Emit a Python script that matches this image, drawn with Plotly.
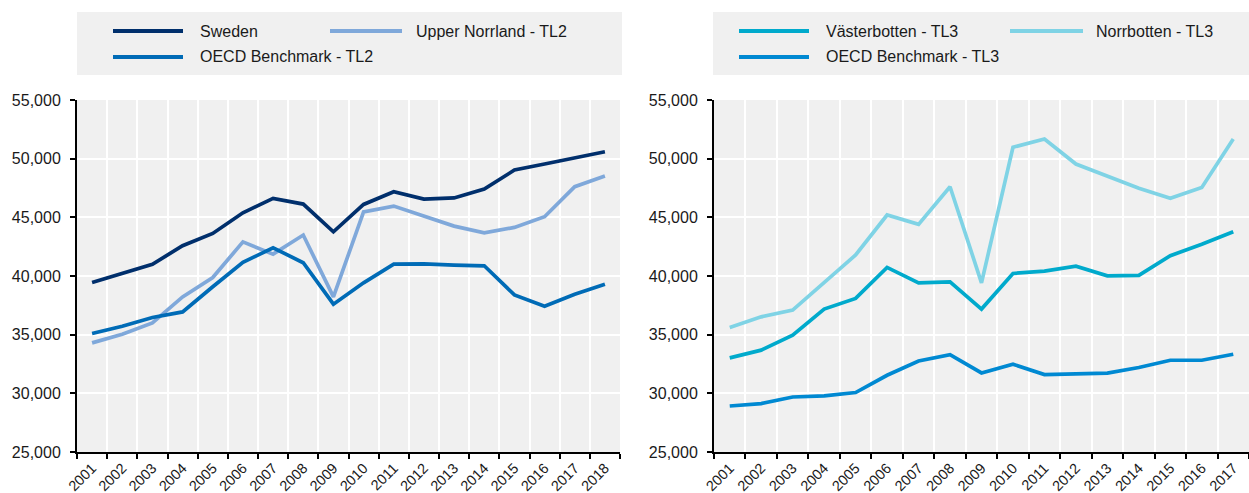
import plotly.graph_objects as go

W, H = 1249, 493

years_tl2 = [str(y) for y in range(2001, 2019)]
years_tl3 = [str(y) for y in range(2001, 2018)]

sweden = [39450, 40220, 41000, 42580, 43630, 45390, 46620, 46130, 43770, 46100,
          47180, 46560, 46650, 47410, 49030, 49540, 50030, 50590]
upper_norrland = [34300, 35040, 36000, 38220, 39870, 42910, 41860, 43490, 38220, 45470,
                  45960, 45100, 44250, 43680, 44140, 45050, 47610, 48520]
oecd_tl2 = [35100, 35720, 36460, 36940, 39080, 41160, 42410, 41130, 37600, 39420,
            41010, 41030, 40930, 40870, 38390, 37430, 38450, 39300]

vasterbotten = [33020, 33680, 34960, 37180, 38090, 40730, 39420, 39500, 37180, 40220,
                40410, 40840, 40010, 40050, 41730, 42700, 43770]
norrbotten = [35610, 36520, 37090, 39420, 41790, 45200, 44400, 47610, 39420, 50970,
              51680, 49540, 48520, 47470, 46620, 47550, 51680]
oecd_tl3 = [28920, 29130, 29690, 29780, 30070, 31540, 32760, 33300, 31740, 32480,
            31600, 31690, 31720, 32200, 32820, 32820, 33330]

C_SWE = "#002F6C"
C_UN = "#7FA8DA"
C_O2 = "#006BB6"
C_VB = "#00AACC"
C_NB = "#7FD3E5"
C_O3 = "#0089D2"

FONT = "Liberation Sans, Arial, sans-serif"
TXT = "#1a1a1a"
FS = 16

def px(x):
    return x / W

def py(y):
    return 1 - y / H

fig = go.Figure()

left_series = [("Sweden", sweden, C_SWE), ("Upper Norrland - TL2", upper_norrland, C_UN),
               ("OECD Benchmark - TL2", oecd_tl2, C_O2)]
right_series = [("Västerbotten - TL3", vasterbotten, C_VB), ("Norrbotten - TL3", norrbotten, C_NB),
                ("OECD Benchmark - TL3", oecd_tl3, C_O3)]

for name, vals, col in [left_series[1], left_series[2], left_series[0]]:
    fig.add_trace(go.Scatter(x=years_tl2, y=vals, mode="lines", name=name,
                             line=dict(color=col, width=3.7), xaxis="x", yaxis="y",
                             showlegend=False))
for name, vals, col in [right_series[1], right_series[0], right_series[2]]:
    fig.add_trace(go.Scatter(x=years_tl3, y=vals, mode="lines", name=name,
                             line=dict(color=col, width=3.7), xaxis="x2", yaxis="y2",
                             showlegend=False))

ydom = [py(452), py(100)]
common_x = dict(type="category", tickson="boundaries", showgrid=True, gridcolor="white",
                gridwidth=1.5, showline=True, linecolor="black", linewidth=2,
                ticks="outside", ticklen=5, tickcolor="black", tickwidth=1.5,
                tickangle=-45, tickfont=dict(family=FONT, size=14.5, color=TXT),
                automargin=False, zeroline=False, ticklabelstandoff=0)
common_y = dict(range=[25000, 55000], dtick=5000, tickformat=",", showgrid=True,
                gridcolor="white", gridwidth=1.5, showline=True, linecolor="black",
                linewidth=2, ticks="outside", ticklen=5, tickcolor="black", tickwidth=1.5,
                tickfont=dict(family=FONT, size=FS, color=TXT), automargin=False,
                zeroline=False, ticklabelstandoff=6)

fig.update_layout(
    width=W, height=H,
    margin=dict(l=0, r=0, t=0, b=0),
    paper_bgcolor="white",
    plot_bgcolor="#F0F0F0",
    xaxis=dict(domain=[px(77), px(620)], anchor="y",
               range=[-0.5, len(years_tl2) - 0.5], **common_x),
    yaxis=dict(domain=ydom, anchor="x", **common_y),
    xaxis2=dict(domain=[px(714), px(1249)], anchor="y2",
                range=[-0.5, len(years_tl3) - 0.5], **common_x),
    yaxis2=dict(domain=ydom, anchor="x2", **common_y),
    showlegend=False,
)

shapes = []
annotations = []

def legend_box(x0, x1, items):
    shapes.append(dict(type="rect", xref="paper", yref="paper", x0=px(x0), x1=px(x1),
                       y0=py(75), y1=py(12), fillcolor="#F0F0F0", line=dict(width=0),
                       layer="below"))
    for (lx0, lx1, tx, ly, name, col) in items:
        shapes.append(dict(type="line", xref="paper", yref="paper", x0=px(lx0), x1=px(lx1),
                           y0=py(ly), y1=py(ly), line=dict(color=col, width=4)))
        annotations.append(dict(text=name, xref="paper", yref="paper", x=px(tx), y=py(ly),
                                xanchor="left", yanchor="middle", showarrow=False,
                                font=dict(family=FONT, size=FS, color=TXT)))

legend_box(77, 622, [
    (113, 183, 198, 31, left_series[0][0], C_SWE),
    (330, 402, 414, 31, left_series[1][0], C_UN),
    (113, 183, 198, 57, left_series[2][0], C_O2),
])
legend_box(713, 1249, [
    (739, 809, 824, 31, right_series[0][0], C_VB),
    (1010, 1083, 1094, 31, right_series[1][0], C_NB),
    (739, 809, 824, 57, right_series[2][0], C_O3),
])

fig.update_layout(shapes=shapes, annotations=annotations)

fig.write_html("out.html", config={"displayModeBar": False},
               post_script="document.body.style.margin='0';document.body.style.overflow='hidden';")
